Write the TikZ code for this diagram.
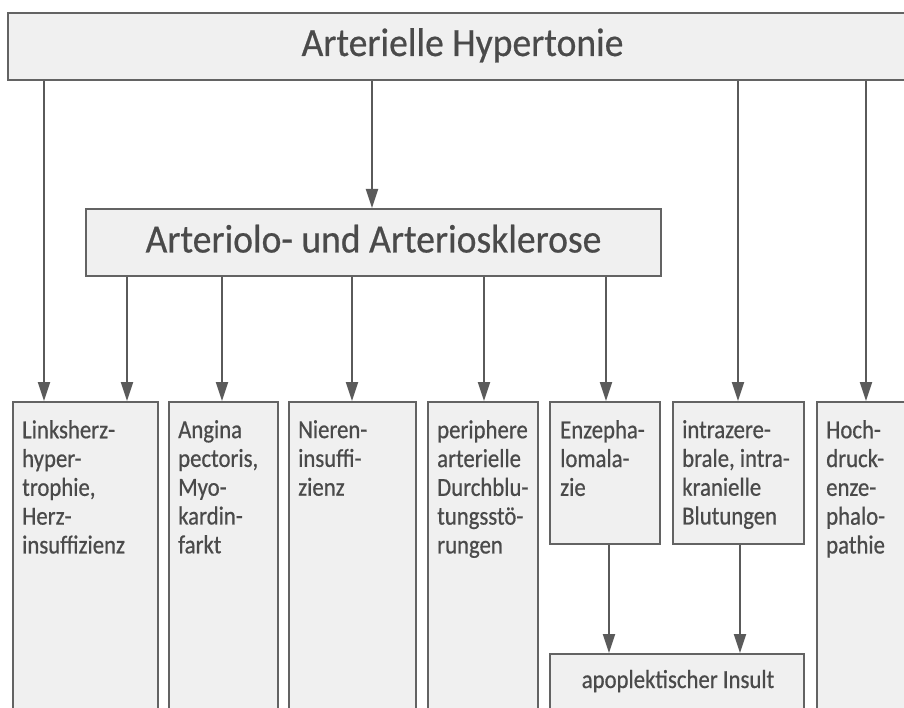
\documentclass[tikz,border=0pt]{standalone}
\usepackage{fontspec}
\setmainfont{Carlito}
\newfontfamily\boxfont{Carlito}[FakeStretch=0.875,FakeBold=0.6]
\newfontfamily\headfont{Carlito}[FakeStretch=0.94,FakeBold=0.5]
\usetikzlibrary{arrows.meta}
\definecolor{boxfill}{HTML}{F0F0F0}
\definecolor{boxline}{HTML}{636363}
\definecolor{ink}{HTML}{4A4A4A}
\definecolor{arrowc}{HTML}{5A5A5A}
\begin{document}
\begin{tikzpicture}[x=1pt,y=-1pt,
  box/.style={draw=boxline, fill=boxfill, line width=2pt, inner sep=0pt, anchor=north west},
  label/.style={text=ink, font=\boxfont\fontsize{26}{28.8}\selectfont, align=left, inner sep=0pt, anchor=north west},
  title/.style={text=ink, font=\headfont\fontsize{40}{46}\selectfont, inner sep=0pt, anchor=base},
  arr/.style={draw=arrowc, line width=2pt, -{Triangle[length=19pt,width=12pt]}}]
\clip (0,0) rectangle (904,708);
\fill[white] (0,0) rectangle (904,708);

% main boxes
\node[box, minimum width=913pt, minimum height=67pt] (top) at (7,12) {};
\node[title] (toplabel) at ([shift={(-2pt,-9.5pt)}]top.center) {Arterielle Hypertonie};
\node[box, minimum width=575pt, minimum height=67pt] (mid) at (85,208) {};
\node[title] (midlabel) at ([shift={(0pt,-10pt)}]mid.center) {Arteriolo- und Arteriosklerose};

% consequence boxes
\node[box, minimum width=145pt, minimum height=360pt] (b1) at (12,401) {};
\node[box, minimum width=109pt, minimum height=360pt] (b2) at (168,401) {};
\node[box, minimum width=127pt, minimum height=360pt] (b3) at (288,401) {};
\node[box, minimum width=110pt, minimum height=360pt] (b4) at (427,401) {};
\node[box, minimum width=110pt, minimum height=142pt] (b5) at (549,401) {};
\node[box, minimum width=131pt, minimum height=142pt] (b6) at (672,401) {};
\node[box, minimum width=120pt, minimum height=360pt] (b7) at (816,401) {};
\node[box, minimum width=254pt, minimum height=100pt] (apo) at (549,653) {};

\node[label] (t1) at ([shift={(10pt,-19pt)}]b1.north west) {Linksherz-\\hyper-\\trophie,\\Herz-\\insuffizienz};
\node[label] (t2) at ([shift={(10pt,-19pt)}]b2.north west) {Angina\\pectoris,\\Myo-\\kardin-\\farkt};
\node[label] (t3) at ([shift={(10pt,-19pt)}]b3.north west) {Nieren-\\insuffi-\\zienz};
\node[label] (t4) at ([shift={(10pt,-19pt)}]b4.north west) {periphere\\arterielle\\Durchblu-\\tungsstö-\\rungen};
\node[label] (t5) at ([shift={(11pt,-19pt)}]b5.north west) {Enzepha-\\lomala-\\zie};
\node[label] (t6) at ([shift={(10pt,-19pt)}]b6.north west) {intrazere-\\brale, intra-\\kranielle\\Blutungen};
\node[label] (t7) at ([shift={(10pt,-19pt)}]b7.north west) {Hoch-\\druck-\\enze-\\phalo-\\pathie};
\node[label, anchor=base] (tapo) at ([shift={(1pt,-35pt)}]apo.north) {apoplektischer Insult};

% arrow columns
\coordinate (c1) at (44,0);
\coordinate (c2) at (372,0);
\coordinate (c3) at (738,0);
\coordinate (c4) at (866,0);
\coordinate (m1) at (127,0);
\coordinate (m2) at (222,0);
\coordinate (m3) at (352,0);
\coordinate (m4) at (484,0);
\coordinate (m5) at (606,0);
\coordinate (s1) at (609,0);
\coordinate (s2) at (740,0);

\draw[arr] (top.south -| c1) -- (c1 |- b1.north);
\draw[arr] (top.south -| c2) -- (c2 |- mid.north);
\draw[arr] (top.south -| c3) -- (c3 |- b6.north);
\draw[arr] (top.south -| c4) -- (c4 |- b7.north);

\draw[arr] (mid.south -| m1) -- (m1 |- b1.north);
\draw[arr] (mid.south -| m2) -- (m2 |- b2.north);
\draw[arr] (mid.south -| m3) -- (m3 |- b3.north);
\draw[arr] (mid.south -| m4) -- (m4 |- b4.north);
\draw[arr] (mid.south -| m5) -- (m5 |- b5.north);

\draw[arr] (b5.south -| s1) -- (s1 |- apo.north);
\draw[arr] (b6.south -| s2) -- (s2 |- apo.north);
\end{tikzpicture}
\end{document}
